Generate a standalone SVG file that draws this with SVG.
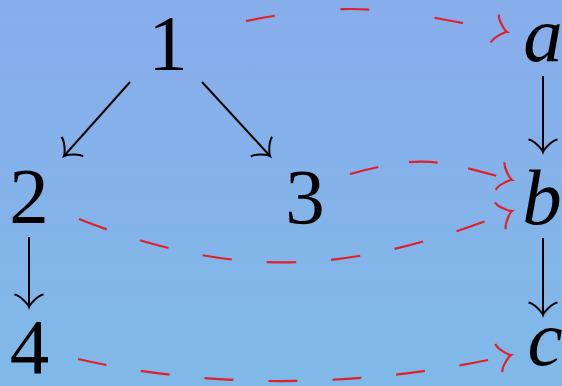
<svg xmlns="http://www.w3.org/2000/svg" width="562" height="386" viewBox="0 0 562 386">
<defs>
<linearGradient id="bg" x1="0" y1="0" x2="0" y2="1">
<stop offset="0" stop-color="#88adeb"/>
<stop offset="1" stop-color="#80b9e8"/>
</linearGradient>
<path id="tip" d="M -12.5,-14.5 C -11.9,-9 -2.5,-0.9 0,0 C -2.5,0.9 -11.9,9 -12.5,14.5"/>
</defs>
<style>
.lbl{font-family:"Liberation Serif","Times New Roman",serif;font-size:79px;fill:#000;text-anchor:middle}
.it{font-style:italic}
.arr{stroke:#000;stroke-width:2;fill:none}
.red{stroke:#e0202a;stroke-width:2.2;fill:none}
.tipr{stroke:#e0202a;stroke-width:2.2;fill:none}
</style>
<rect width="562" height="386" fill="url(#bg)"/>
<g id="connectors">
<line class="arr" x1="130" y1="82" x2="64" y2="156"/>
<use href="#tip" class="arr" transform="translate(64,156) rotate(131.7)"/>
<line class="arr" x1="202" y1="82" x2="270" y2="156"/>
<use href="#tip" class="arr" transform="translate(270,156) rotate(47.4)"/>
<line class="arr" x1="543" y1="76" x2="543" y2="152"/>
<use href="#tip" class="arr" transform="translate(543,152) rotate(90)"/>
<line class="arr" x1="543" y1="238" x2="543" y2="315"/>
<use href="#tip" class="arr" transform="translate(543,315) rotate(90)"/>
<line class="arr" x1="29" y1="237" x2="29" y2="307"/>
<use href="#tip" class="arr" transform="translate(29,307) rotate(90)"/>
<path class="red" stroke-dasharray="29 66" d="M246,21 C356,-1 397,10 507,32"/>
<use href="#tip" class="tipr" transform="translate(507,32) rotate(16)"/>
<path class="red" stroke-dasharray="29 31" d="M350,174 C424,154 438,160 512,180"/>
<use href="#tip" class="tipr" transform="translate(512,180) rotate(18)"/>
<path class="red" stroke-dasharray="29.5 35" d="M79,219 C239,282 352,274 512,211"/>
<use href="#tip" class="tipr" transform="translate(512,211) rotate(-22)"/>
<path class="red" stroke-dasharray="29 35" d="M78,359 C218,391 371,387 511,355"/>
<use href="#tip" class="tipr" transform="translate(511,355) rotate(-14)"/>
</g>
<g id="n1"><text class="lbl" x="168" y="69">1</text></g>
<g id="n2"><text class="lbl" x="29" y="222">2</text></g>
<g id="n3"><text class="lbl" x="305" y="223">3</text></g>
<g id="n4"><text class="lbl" x="29.5" y="373">4</text></g>
<g id="na"><text class="lbl it" x="543" y="61">a</text></g>
<g id="nb"><text class="lbl it" x="542" y="224">b</text></g>
<g id="nc"><text class="lbl it" x="545" y="365">c</text></g>
</svg>
